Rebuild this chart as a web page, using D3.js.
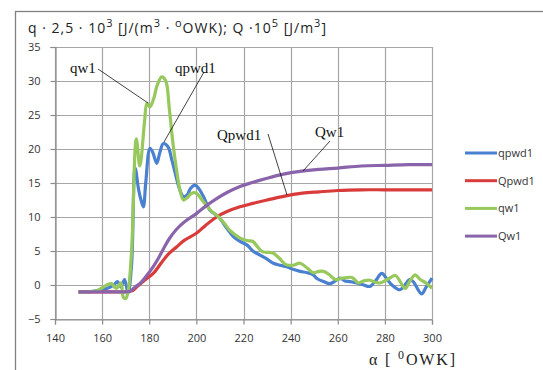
<!DOCTYPE html>
<html>
<head>
<meta charset="utf-8">
<script src="https://cdn.jsdelivr.net/npm/d3@7"></script>
<style>
  body { margin: 0; background: #fff; }
  svg { display: block; }
  .tick text { font-family: "Open Sans", "Noto Sans", sans-serif; font-size: 11px; fill: #333; }
</style>
</head>
<body>
<div id="chart"></div>
<script>
// q series (sampled densely through the peak)
var alphaQpwd = [150,154,158,162,165,166.5,168,169.5,171,172.5,174,175.5,176.5,177.5,178.5,180.3,181.5,183.2,184.5,186,188,189.5,191,192.5,194.5,196,197.5,199.4,201,203,205.8,208,210,213,215.7,218.5,221.4,224,227,230,232.7,235.5,238.3,241,244,247,249.6,251,254,256.7,259,261,263,265.2,268,271,273.7,276,278.7,281,283,286.4,288.5,290.5,292,295.6,297.5,300];
var qpwd1 = [-1.0,-1.0,-0.8,-0.5,0.0,0.5,-0.3,0.8,-1.2,3,17.2,14,12.5,11.5,15,20.1,19.5,17.9,19.5,20.8,20.3,18.5,16.5,14.5,13.0,13.2,14.2,14.7,14.2,13,11,10.4,9.8,8.3,7.1,6.4,5.9,5.0,4.4,3.8,3.2,2.9,2.7,2.3,2.0,1.8,1.5,1.0,0.5,0.2,0.6,1.0,0.6,0.5,0.3,0.0,-0.2,0.6,1.7,0.8,0.0,-0.7,0.0,0.8,0.5,-1.3,-0.3,1.0];

var alphaQw = [150,154,158,162,164,166,168,169,170,171,172.5,174.5,176,178,179,180.3,181.7,183.5,185.3,187,188.5,190,191.6,193,194.5,196,198,200,202,204,206,208,210,212,214,216,218,220,222,224,226,228,230,232.5,235,238,241,244,247,249.6,252,254,256.5,259,262,266,268.8,271,273.7,276,278,281,284.5,286.5,288.6,290.5,292.8,295,297.5,300];
var qw1 = [-1.0,-1.0,-0.8,0.0,0.2,-0.5,0.3,-1.8,-2.0,-1.0,5,21.5,17.5,24,26.7,26.2,27.2,29.5,30.6,30,26,21,16.9,14,12.5,12.8,13.5,13.5,12.7,11.8,11.0,10.4,9.8,9.0,8.1,7.5,7.0,6.7,6.5,6.4,5.6,4.9,4.8,4.7,4.0,3.0,2.9,3.2,2.5,1.8,2.0,2.0,1.5,0.8,1.0,1.1,0.3,0.6,0.7,0.4,0.3,0.8,1.4,0.5,-0.5,0.5,1.5,0.8,0.3,-0.5];

// Q series (smooth)
var alphaQQpwd = [150,160,170,173,175,178,181.7,185,188,191.6,195,200,204,208.6,213,218.5,224,230,238,245,252,260,270,280,290,300];
var Qpwd1 = [-1.0,-1.0,-1.0,-0.8,-0.2,0.7,1.7,3.2,4.5,5.6,6.6,7.6,8.8,10.0,10.8,11.5,12.0,12.5,13.1,13.5,13.7,13.9,14.0,14.0,14.0,14.0];

var alphaQQw = [150,160,170,172,174,176,178.5,181.7,184,186,188.5,191.6,195,200,204,208.6,213,218.5,224,230,237,244,252,260,270,280,290,300];
var Qw1 = [-1.0,-1.0,-1.0,-0.9,-0.3,0.2,1.2,2.7,4.0,5.3,6.8,8.2,9.3,10.5,11.6,12.7,13.6,14.5,15.1,15.7,16.3,16.7,17.0,17.2,17.5,17.6,17.7,17.7];

var xTicks = [140,160,180,200,220,240,260,280,300];
var yTicks = [-5,0,5,10,15,20,25,30,35];

var series = [
  { name: "qpwd1", xs: alphaQpwd, ys: qpwd1, color: "#4a80d0" },
  { name: "Qpwd1", xs: alphaQQpwd, ys: Qpwd1, color: "#d93a3a" },
  { name: "qw1", xs: alphaQw, ys: qw1, color: "#96c85c" },
  { name: "Qw1", xs: alphaQQw, ys: Qw1, color: "#8a64aa" }
];

var width = 543, height = 370;

var svg = d3.select("#chart").append("svg")
    .attr("width", width)
    .attr("height", height);

// outer frame (runs off the right/bottom edges)
svg.append("rect")
    .attr("x", 15.5).attr("y", 11.5)
    .attr("width", 600).attr("height", 400)
    .attr("fill", "none").attr("stroke", "#808080").attr("stroke-width", 1.3);

var x = d3.scaleLinear().domain([140, 300]).range([55, 432]);
var y = d3.scaleLinear().domain([-5, 35]).range([319, 47]);

// grid
svg.append("g")
    .selectAll("line.h").data(yTicks).enter().append("line")
    .attr("x1", x(140)).attr("x2", x(300))
    .attr("y1", function(d) { return Math.round(y(d)) + 0.5; })
    .attr("y2", function(d) { return Math.round(y(d)) + 0.5; })
    .attr("stroke", "#a6a6a6").attr("stroke-width", 1.2);
svg.append("g")
    .selectAll("line.v").data(xTicks).enter().append("line")
    .attr("y1", y(35)).attr("y2", y(-5))
    .attr("x1", function(d) { return Math.round(x(d)) + 0.5; })
    .attr("x2", function(d) { return Math.round(x(d)) + 0.5; })
    .attr("stroke", "#a6a6a6").attr("stroke-width", 1.2);

// axes
var gx = svg.append("g")
    .attr("transform", "translate(0," + (Math.round(y(-5)) + 0.5) + ")")
    .call(d3.axisBottom(x).tickValues(xTicks).tickSize(5).tickPadding(10));
var gy = svg.append("g")
    .attr("transform", "translate(" + (Math.round(x(140)) + 0.5) + ",0)")
    .call(d3.axisLeft(y).tickValues(yTicks).tickSize(5).tickPadding(10));
[gx, gy].forEach(function(g) {
  g.select(".domain").attr("stroke", "#8c8c8c").attr("stroke-width", 1.2);
  g.selectAll(".tick line").attr("stroke", "#8c8c8c").attr("stroke-width", 1.2);
});

// lines
var line = d3.line()
    .curve(d3.curveCatmullRom.alpha(0.5));

series.forEach(function(s) {
  var pts = s.xs.map(function(a, i) { return [x(a), y(s.ys[i])]; });
  svg.append("path")
      .datum(pts)
      .attr("fill", "none")
      .attr("stroke", s.color)
      .attr("stroke-width", 3.2)
      .attr("stroke-linejoin", "round")
      .attr("d", line);
});

// title with superscripts
var title = svg.append("text")
    .attr("x", 28).attr("y", 33)
    .attr("textLength", 298)
    .attr("lengthAdjust", "spacing")
    .style("font-family", "'Open Sans', 'Noto Sans', sans-serif")
    .style("font-size", "14px")
    .attr("fill", "#222");
function sup(t) { title.append("tspan").attr("dy", -6).style("font-size", "11px").text(t); }
function txt(t) { title.append("tspan").attr("dy", 6).text(t); }
title.append("tspan").text("q \u00b7 2,5 \u00b7 10");
sup("3");
txt(" [J/(m");
sup("3");
txt(" \u00b7 ");
sup("o");
txt("OWK); Q \u00b710");
sup("5");
txt(" [J/m");
sup("3");
txt("]");

// x axis title
var xt = svg.append("text")
    .attr("x", 369).attr("y", 365)
    .attr("textLength", 86)
    .attr("lengthAdjust", "spacing")
    .style("font-family", "'Liberation Serif', 'DejaVu Serif', serif")
    .style("font-size", "16px")
    .attr("fill", "#222");
xt.append("tspan").text("\u03b1 [ ");
xt.append("tspan").attr("dy", -6).style("font-size", "12px").text("0");
xt.append("tspan").attr("dy", 6).text("OWK]");

// annotations
var notes = [
  { t: "qw1", tx: 70, ty: 73, x1: 98, y1: 69, x2: 148, y2: 103 },
  { t: "qpwd1", tx: 175, ty: 73, x1: 204, y1: 72, x2: 164, y2: 142 },
  { t: "Qpwd1", tx: 217, ty: 140, x1: 268, y1: 134, x2: 287, y2: 195 },
  { t: "Qw1", tx: 315, ty: 137, x1: 330, y1: 141, x2: 303, y2: 171 }
];
notes.forEach(function(n) {
  svg.append("line")
      .attr("x1", n.x1).attr("y1", n.y1).attr("x2", n.x2).attr("y2", n.y2)
      .attr("stroke", "#111").attr("stroke-width", 0.8);
  svg.append("text")
      .attr("x", n.tx).attr("y", n.ty)
      .style("font-family", "'Liberation Serif', 'DejaVu Serif', serif")
      .style("font-size", "15px")
      .attr("fill", "#111")
      .text(n.t);
});

// legend
var leg = svg.append("g");
series.forEach(function(s, i) {
  var ly = 153 + i * 27.7;
  leg.append("line")
      .attr("x1", 465).attr("x2", 497).attr("y1", ly).attr("y2", ly)
      .attr("stroke", s.color).attr("stroke-width", 3);
  leg.append("text")
      .attr("x", 498).attr("y", ly + 4)
      .style("font-family", "'Open Sans', 'Noto Sans', sans-serif")
      .style("font-size", "11px")
      .attr("fill", "#333")
      .text(s.name);
});
</script>
</body>
</html>
